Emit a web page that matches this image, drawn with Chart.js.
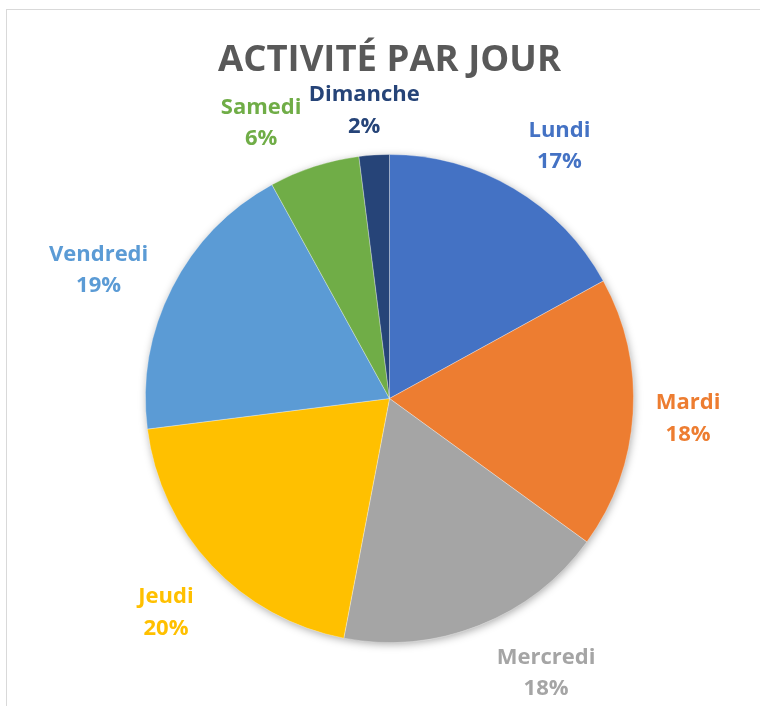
<!DOCTYPE html>
<html>
<head>
<meta charset="utf-8">
<script src="https://cdn.jsdelivr.net/npm/chart.js@4.4.0/dist/chart.umd.min.js"></script>
<style>
  html, body { margin: 0; padding: 0; background: #ffffff; }
  #wrap { position: relative; width: 760px; height: 706px; overflow: hidden; }
  #frame { position: absolute; left: 6px; top: 9px; width: 900px; height: 900px;
           border-left: 1px solid #d9d9d9; border-top: 1px solid #d9d9d9; }
  #c { position: absolute; left: 0; top: 0; }
</style>
</head>
<body>
<div id="wrap">
  <div id="frame"></div>
  <canvas id="c" width="760" height="706"></canvas>
</div>
<script>
// ---- data ----
const chartTitle = "ACTIVITÉ PAR JOUR";
const categories = ["Lundi", "Mardi", "Mercredi", "Jeudi", "Vendredi", "Samedi", "Dimanche"];
const shares = [17, 18, 18, 20, 19, 6, 2];

// ---- styles ----
const sliceColors = ["#4472C4", "#ED7D31", "#A5A5A5", "#FFC000", "#5B9BD5", "#70AD47", "#264478"];
// label placement relative to each slice: angular nudge (deg) and distance (x radius)
const labelNudgeDeg = [3.2, 0, -8.2, -0.4, -3.0, -6.9, -1.4];
const labelDistFactor = [1.252, 1.226, 1.291, 1.265, 1.305, 1.250, 1.189];

const pieShadow = {
  id: 'pieShadow',
  beforeDatasetsDraw(chart) {
    const arc = chart.getDatasetMeta(0).data[0];
    if (!arc) return;
    const ctx = chart.ctx;
    ctx.save();
    ctx.shadowColor = 'rgba(0,0,0,0.35)';
    ctx.shadowBlur = 9;
    ctx.shadowOffsetX = 1;
    ctx.shadowOffsetY = 2;
    ctx.fillStyle = '#ffffff';
    ctx.beginPath();
    ctx.arc(arc.x, arc.y, arc.outerRadius - 0.5, 0, Math.PI * 2);
    ctx.fill();
    ctx.restore();
  }
};

const labelsAndTitle = {
  id: 'labelsAndTitle',
  afterDraw(chart) {
    const ctx = chart.ctx;
    const meta = chart.getDatasetMeta(0);
    const total = shares.reduce((a, b) => a + b, 0);
    ctx.save();
    // title
    const cx = meta.data[0].x;
    ctx.font = "bold 36.5px 'Open Sans'";
    ctx.fillStyle = '#595959';
    ctx.textAlign = 'center';
    ctx.textBaseline = 'alphabetic';
    ctx.fillText(chartTitle, cx, 71);
    // data labels
    ctx.font = "bold 22px 'Open Sans'";
    meta.data.forEach((el, i) => {
      const mid = (el.startAngle + el.endAngle) / 2 + labelNudgeDeg[i] * Math.PI / 180;
      const d = el.outerRadius * labelDistFactor[i];
      const x = el.x + Math.cos(mid) * d;
      const y = el.y + Math.sin(mid) * d;
      ctx.fillStyle = sliceColors[i];
      ctx.fillText(categories[i], x, y - 8);
      ctx.fillText(Math.round(shares[i] / total * 100) + '%', x, y + 23.5);
    });
    ctx.restore();
  }
};

new Chart(document.getElementById('c'), {
  type: 'pie',
  data: {
    labels: categories,
    datasets: [{
      data: shares,
      backgroundColor: sliceColors,
      borderColor: 'rgba(255,255,255,0.3)',
      borderWidth: 1
    }]
  },
  options: {
    responsive: false,
    animation: false,
    devicePixelRatio: 1,
    layout: { padding: { left: 145, right: 126, top: 154, bottom: 63 } },
    plugins: {
      legend: { display: false },
      title: { display: false },
      tooltip: { enabled: false }
    }
  },
  plugins: [pieShadow, labelsAndTitle]
});
</script>
</body>
</html>
